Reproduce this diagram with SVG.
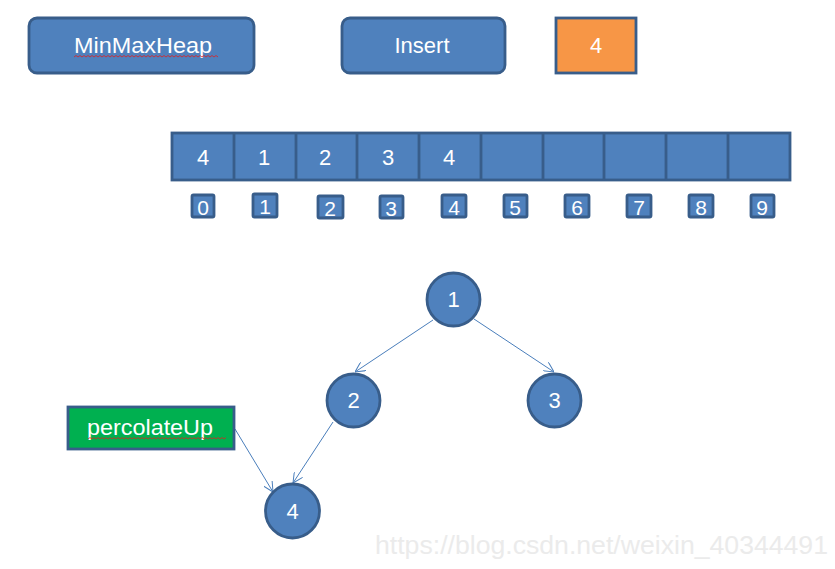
<svg xmlns="http://www.w3.org/2000/svg" width="835" height="569" viewBox="0 0 835 569">
<style>
.box{fill:#4F81BD;stroke:#385D8A;stroke-width:2.8}
.txt{font-family:"Liberation Sans",Arial,sans-serif;font-size:21px;fill:#fff;text-anchor:middle;dominant-baseline:central}
.lbl{font-size:22px}
.edge{stroke:#4A7EBB;stroke-width:1;fill:none;marker-end:url(#arr)}
.squig{stroke:#E02020;stroke-width:0.8;fill:none}
</style>
<defs>
<marker id="arr" viewBox="0 0 10 10" refX="10" refY="5" markerWidth="10" markerHeight="10" markerUnits="userSpaceOnUse" orient="auto">
<path d="M0,0 L10,5 L0,10" fill="none" stroke="#4A7EBB" stroke-width="1"/>
</marker>
</defs>
<rect width="835" height="569" fill="#fff"/>
<g id="minmaxheap">
<rect class="box" x="29" y="18" width="225" height="55" rx="8"/>
<text class="txt lbl" x="143" y="45" textLength="138" lengthAdjust="spacingAndGlyphs">MinMaxHeap</text>
<path class="squig" d="M74,57 l2,-1.5 l2,1.5 l2,-1.5 l2,1.5 l2,-1.5 l2,1.5 l2,-1.5 l2,1.5 l2,-1.5 l2,1.5 l2,-1.5 l2,1.5 l2,-1.5 l2,1.5 l2,-1.5 l2,1.5 l2,-1.5 l2,1.5 l2,-1.5 l2,1.5 l2,-1.5 l2,1.5 l2,-1.5 l2,1.5 l2,-1.5 l2,1.5 l2,-1.5 l2,1.5 l2,-1.5 l2,1.5 l2,-1.5 l2,1.5 l2,-1.5 l2,1.5 l2,-1.5 l2,1.5 l2,-1.5 l2,1.5 l2,-1.5 l2,1.5 l2,-1.5 l2,1.5 l2,-1.5 l2,1.5 l2,-1.5 l2,1.5 l2,-1.5 l2,1.5 l2,-1.5 l2,1.5 l2,-1.5 l2,1.5 l2,-1.5 l2,1.5 l2,-1.5 l2,1.5 l2,-1.5 l2,1.5 l2,-1.5 l2,1.5 l2,-1.5 l2,1.5 l2,-1.5 l2,1.5 l2,-1.5 l2,1.5 l2,-1.5 l2,1.5 l2,-1.5 l2,1.5 l2,-1.5 l2,1.5"/>
</g>
<g id="insert">
<rect class="box" x="342" y="18" width="163" height="55" rx="8"/>
<text class="txt lbl" x="422" y="45">Insert</text>
</g>
<g id="value">
<rect x="556" y="18" width="80" height="55" fill="#F79646" stroke="#385D8A" stroke-width="2.8"/>
<text class="txt lbl" x="596" y="45">4</text>
</g>
<g id="array">
<rect class="box" x="172" y="133" width="618" height="47"/>
<g stroke="#385D8A" stroke-width="2.8">
<line x1="234" y1="133" x2="234" y2="180"/>
<line x1="296" y1="133" x2="296" y2="180"/>
<line x1="357" y1="133" x2="357" y2="180"/>
<line x1="419" y1="133" x2="419" y2="180"/>
<line x1="481" y1="133" x2="481" y2="180"/>
<line x1="543" y1="133" x2="543" y2="180"/>
<line x1="604" y1="133" x2="604" y2="180"/>
<line x1="666" y1="133" x2="666" y2="180"/>
<line x1="728" y1="133" x2="728" y2="180"/>
</g>
<text class="txt lbl" x="203" y="157">4</text>
<text class="txt lbl" x="264" y="157">1</text>
<text class="txt lbl" x="325" y="157">2</text>
<text class="txt lbl" x="388" y="157">3</text>
<text class="txt lbl" x="449" y="157">4</text>
</g>
<g id="indices">
<rect class="box" x="192" y="195" width="22" height="22" rx="1.5"/><text class="txt" x="203" y="207">0</text>
<rect class="box" x="253" y="194" width="24" height="23" rx="1.5"/><text class="txt" x="265" y="206">1</text>
<rect class="box" x="318" y="196" width="25" height="22" rx="1.5"/><text class="txt" x="330" y="208">2</text>
<rect class="box" x="380" y="196" width="23" height="22" rx="1.5"/><text class="txt" x="391" y="208">3</text>
<rect class="box" x="442" y="195" width="24" height="22" rx="1.5"/><text class="txt" x="454" y="207">4</text>
<rect class="box" x="504" y="195" width="23" height="22" rx="1.5"/><text class="txt" x="515" y="207">5</text>
<rect class="box" x="565" y="195" width="24" height="22" rx="1.5"/><text class="txt" x="577" y="207">6</text>
<rect class="box" x="627" y="195" width="24" height="22" rx="1.5"/><text class="txt" x="639" y="207">7</text>
<rect class="box" x="689" y="195" width="24" height="22" rx="1.5"/><text class="txt" x="701" y="207">8</text>
<rect class="box" x="751" y="195" width="23" height="22" rx="1.5"/><text class="txt" x="762" y="207">9</text>
</g>
<g id="connectors">
<line class="edge" x1="433" y1="320" x2="355" y2="372"/>
<line class="edge" x1="474" y1="319" x2="554" y2="372"/>
<line class="edge" x1="333" y1="422" x2="293" y2="483"/>
<line class="edge" x1="235" y1="429" x2="273" y2="492"/>
</g>
<g id="node1">
<circle class="box" cx="453.5" cy="299.5" r="26.5"/>
<text class="txt lbl" x="453.5" y="299.5">1</text>
</g>
<g id="node2">
<circle class="box" cx="353.5" cy="400.5" r="26.5"/>
<text class="txt lbl" x="353.5" y="400.5">2</text>
</g>
<g id="node3">
<circle class="box" cx="554.5" cy="400.5" r="26.5"/>
<text class="txt lbl" x="554.5" y="400.5">3</text>
</g>
<g id="node4">
<circle class="box" cx="292.5" cy="511" r="27"/>
<text class="txt lbl" x="292.5" y="511">4</text>
</g>
<g id="percolateUp">
<rect x="68" y="407" width="166" height="42" fill="#00B050" stroke="#385D8A" stroke-width="2.8"/>
<text class="txt lbl" x="150" y="427" textLength="126" lengthAdjust="spacingAndGlyphs">percolateUp</text>
<path class="squig" d="M88,439 l2,-1.5 l2,1.5 l2,-1.5 l2,1.5 l2,-1.5 l2,1.5 l2,-1.5 l2,1.5 l2,-1.5 l2,1.5 l2,-1.5 l2,1.5 l2,-1.5 l2,1.5 l2,-1.5 l2,1.5 l2,-1.5 l2,1.5 l2,-1.5 l2,1.5 l2,-1.5 l2,1.5 l2,-1.5 l2,1.5 l2,-1.5 l2,1.5 l2,-1.5 l2,1.5 l2,-1.5 l2,1.5 l2,-1.5 l2,1.5 l2,-1.5 l2,1.5 l2,-1.5 l2,1.5 l2,-1.5 l2,1.5 l2,-1.5 l2,1.5 l2,-1.5 l2,1.5 l2,-1.5 l2,1.5 l2,-1.5 l2,1.5 l2,-1.5 l2,1.5 l2,-1.5 l2,1.5 l2,-1.5 l2,1.5 l2,-1.5 l2,1.5 l2,-1.5 l2,1.5 l2,-1.5 l2,1.5 l2,-1.5 l2,1.5 l2,-1.5 l2,1.5 l2,-1.5 l2,1.5 l2,-1.5 l2,1.5 l2,-1.5 l2,1.5 l2,-1.5"/>
</g>
<text x="828" y="554" font-family="Liberation Sans,Arial,sans-serif" font-size="26" fill="#EBEBEB" text-anchor="end" textLength="453" lengthAdjust="spacingAndGlyphs">https://blog.csdn.net/weixin_40344491</text>
</svg>
